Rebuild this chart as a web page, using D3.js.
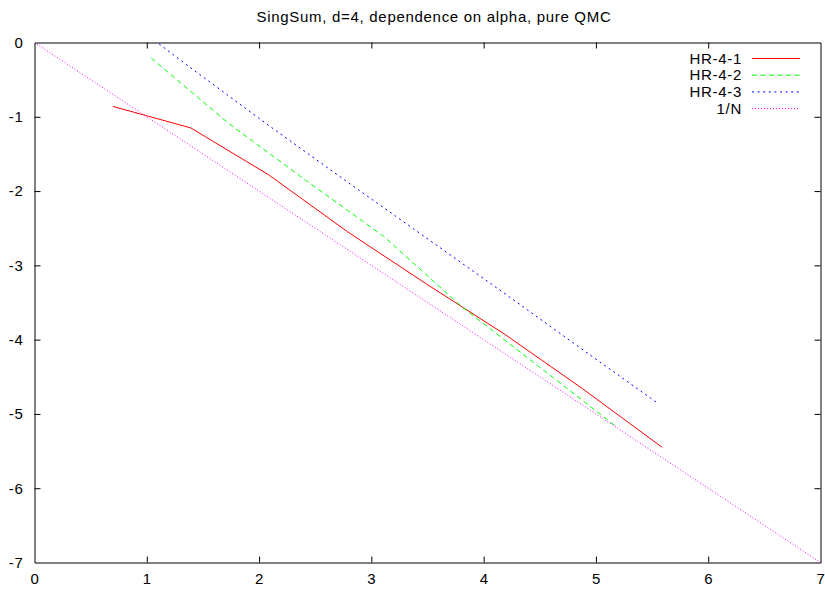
<!DOCTYPE html>
<html>
<head>
<meta charset="utf-8">
<script src="https://cdn.jsdelivr.net/npm/d3@7"></script>
<style>
  html, body { margin: 0; padding: 0; background: #fff; }
  svg { display: block; }
  text { font-family: "Liberation Sans", Arial, Helvetica, sans-serif; fill: #000; }
</style>
</head>
<body>
<svg id="chart" width="825" height="589"></svg>
<script>
// log-error vs. log-N for the SingSum test (d = 4)
const hr41X = [0.697, 1.392, 2.084, 2.79, 3.49, 4.19, 4.88, 5.59];
const hr41Y = [-0.86, -1.15, -1.78, -2.55, -3.25, -3.93, -4.66, -5.45];

const hr42X = [1.04, 1.73, 2.42, 3.11, 3.80, 4.49, 5.18];
const hr42Y = [-0.21, -1.09, -1.86, -2.61, -3.55, -4.36, -5.17];

const hr43X = [1.11, 1.39, 2.08, 2.77, 3.47, 4.16, 4.85, 5.545];
const hr43Y = [-0.02, -0.34, -1.11, -1.86, -2.61, -3.35, -4.10, -4.85];

// reference rate 1/N
const refX = [0, 1, 2, 3, 4, 5, 6, 7];
const refY = [0, -1, -2, -3, -4, -5, -6, -7];

const xTicks = [0, 1, 2, 3, 4, 5, 6, 7];
const yTicks = [0, -1, -2, -3, -4, -5, -6, -7];

const seriesNames = ["HR-4-1", "HR-4-2", "HR-4-3", "1/N"];
const seriesColors = ["#ff0000", "#00ff00", "#0000ff", "#ff00ff"];
const seriesDash = [null, "5,3.5", "2,3.6", "1,2"];

const titleText = "SingSum, d=4, dependence on alpha, pure QMC";

const FONT = 15;
const SPACING = 0.7;

const svg = d3.select("#chart");
const L = 34.5, R = 820.5, T = 42.5, B = 562.5;

const x = d3.scaleLinear().domain([0, 7]).range([L, R]);
const y = d3.scaleLinear().domain([-7, 0]).range([B, T]);

const series = [
  { xs: hr41X, ys: hr41Y },
  { xs: hr42X, ys: hr42Y },
  { xs: hr43X, ys: hr43Y },
  { xs: refX, ys: refY }
].map((s, i) => ({
  name: seriesNames[i],
  color: seriesColors[i],
  dash: seriesDash[i],
  pts: s.xs.map((v, j) => [v, s.ys[j]])
}));

svg.append("defs").append("clipPath").attr("id", "plotclip")
  .append("rect").attr("x", L).attr("y", T).attr("width", R - L).attr("height", B - T);

// title
svg.append("text")
  .attr("x", 434).attr("y", 22)
  .attr("text-anchor", "middle")
  .attr("font-size", FONT)
  .attr("letter-spacing", SPACING)
  .text(titleText);

// axes with inward ticks on all four sides
const tickLen = 6;
const axisG = svg.append("g");
const plain = d => String(d);   // plain hyphen for negatives

const bottomAxis = d3.axisBottom(x).tickValues(xTicks).tickSizeInner(-tickLen).tickSizeOuter(0).tickPadding(tickLen + 5).tickFormat(plain);
const topAxis = d3.axisTop(x).tickValues(xTicks).tickSizeInner(-tickLen).tickSizeOuter(0).tickFormat("");
const leftAxis = d3.axisLeft(y).tickValues(yTicks).tickSizeInner(-tickLen).tickSizeOuter(0).tickPadding(tickLen + 5).tickFormat(plain);
const rightAxis = d3.axisRight(y).tickValues(yTicks).tickSizeInner(-tickLen).tickSizeOuter(0).tickFormat("");

const gB = axisG.append("g").attr("transform", `translate(0,${B})`).call(bottomAxis);
const gT = axisG.append("g").attr("transform", `translate(0,${T})`).call(topAxis);
const gL = axisG.append("g").attr("transform", `translate(${L},0)`).call(leftAxis);
const gR = axisG.append("g").attr("transform", `translate(${R},0)`).call(rightAxis);

[gB, gT, gL, gR].forEach(g => {
  g.select(".domain").attr("stroke", "#000").attr("stroke-width", 1);
  g.selectAll(".tick line").attr("stroke", "#000").attr("stroke-width", 1);
  g.selectAll(".tick text")
    .attr("font-size", FONT)
    .attr("letter-spacing", SPACING)
    .attr("font-family", "Liberation Sans, Arial, sans-serif")
    .attr("fill", "#000");
});
gB.selectAll(".tick text").attr("dy", "0.71em");
// endpoint ticks sit on the frame corners
gT.selectAll(".tick").filter(d => d === 0 || d === 7).select("line").remove();
gB.selectAll(".tick").filter(d => d === 0 || d === 7).select("line").remove();
gL.selectAll(".tick").filter(d => d === 0 || d === -7).select("line").remove();
gR.selectAll(".tick").filter(d => d === 0 || d === -7).select("line").remove();

// curves
const line = d3.line().x(d => x(d[0])).y(d => y(d[1]));
const plotG = svg.append("g").attr("clip-path", "url(#plotclip)");
series.forEach(s => {
  plotG.append("path")
    .attr("d", line(s.pts))
    .attr("fill", "none")
    .attr("stroke", s.color)
    .attr("stroke-width", 1)
    .attr("stroke-dasharray", s.dash);
});

// legend (top right, inside the frame)
const legend = svg.append("g");
series.forEach((s, i) => {
  const ly = 58.5 + i * 16.7;
  legend.append("text")
    .attr("x", 742).attr("y", ly)
    .attr("dy", "0.35em")
    .attr("text-anchor", "end")
    .attr("font-size", FONT)
    .attr("letter-spacing", SPACING)
    .text(s.name);
  legend.append("line")
    .attr("x1", 752).attr("x2", 800)
    .attr("y1", ly).attr("y2", ly)
    .attr("stroke", s.color)
    .attr("stroke-width", 1)
    .attr("stroke-dasharray", s.dash);
});
</script>
</body>
</html>
